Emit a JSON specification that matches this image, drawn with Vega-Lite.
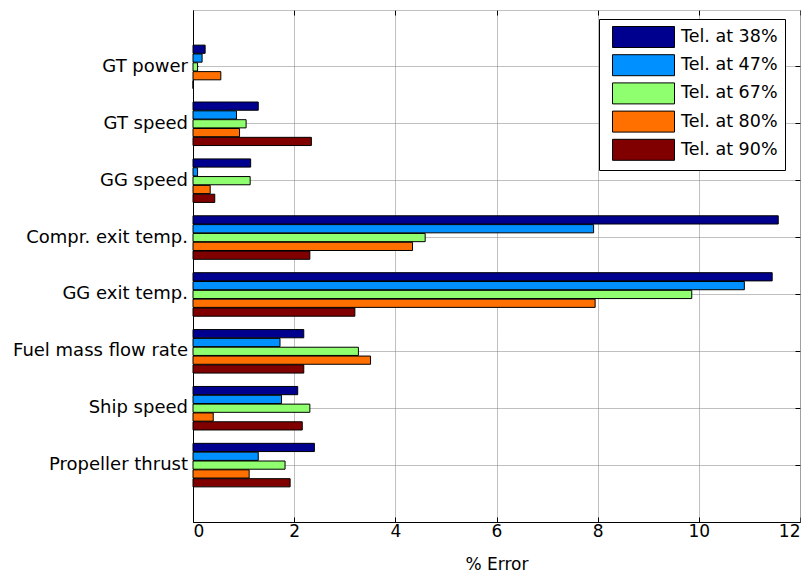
{
  "$schema": "https://vega.github.io/schema/vega-lite/v6.json",
  "autosize": "none",
  "width": 607,
  "height": 512,
  "padding": {"left": 193, "top": 10, "right": 9, "bottom": 52},
  "background": "white",
  "config": {
    "view": {"stroke": null},
    "font": "DejaVu Sans",
    "axis": {
      "labelFont": "DejaVu Sans",
      "titleFont": "DejaVu Sans",
      "labelColor": "#000",
      "titleColor": "#000",
      "titleFontWeight": "normal",
      "gridDash": [1, 1],
      "gridColor": "#808080",
      "gridOpacity": 1,
      "domainColor": "#000",
      "tickColor": "#000"
    }
  },
  "data": {
    "values": [
      {"param": "GT power", "tel": "Tel. at 38%", "value": 0.24},
      {"param": "GT power", "tel": "Tel. at 47%", "value": 0.18},
      {"param": "GT power", "tel": "Tel. at 67%", "value": 0.09},
      {"param": "GT power", "tel": "Tel. at 80%", "value": 0.55},
      {"param": "GT power", "tel": "Tel. at 90%", "value": 0},
      {"param": "GT speed", "tel": "Tel. at 38%", "value": 1.29},
      {"param": "GT speed", "tel": "Tel. at 47%", "value": 0.86},
      {"param": "GT speed", "tel": "Tel. at 67%", "value": 1.05},
      {"param": "GT speed", "tel": "Tel. at 80%", "value": 0.92},
      {"param": "GT speed", "tel": "Tel. at 90%", "value": 2.34},
      {"param": "GG speed", "tel": "Tel. at 38%", "value": 1.14},
      {"param": "GG speed", "tel": "Tel. at 47%", "value": 0.09},
      {"param": "GG speed", "tel": "Tel. at 67%", "value": 1.13},
      {"param": "GG speed", "tel": "Tel. at 80%", "value": 0.34},
      {"param": "GG speed", "tel": "Tel. at 90%", "value": 0.43},
      {"param": "Compr. exit temp.", "tel": "Tel. at 38%", "value": 11.57},
      {"param": "Compr. exit temp.", "tel": "Tel. at 47%", "value": 7.92},
      {"param": "Compr. exit temp.", "tel": "Tel. at 67%", "value": 4.59},
      {"param": "Compr. exit temp.", "tel": "Tel. at 80%", "value": 4.34},
      {"param": "Compr. exit temp.", "tel": "Tel. at 90%", "value": 2.31},
      {"param": "GG exit temp.", "tel": "Tel. at 38%", "value": 11.45},
      {"param": "GG exit temp.", "tel": "Tel. at 47%", "value": 10.9},
      {"param": "GG exit temp.", "tel": "Tel. at 67%", "value": 9.86},
      {"param": "GG exit temp.", "tel": "Tel. at 80%", "value": 7.95},
      {"param": "GG exit temp.", "tel": "Tel. at 90%", "value": 3.2},
      {"param": "Fuel mass flow rate", "tel": "Tel. at 38%", "value": 2.19},
      {"param": "Fuel mass flow rate", "tel": "Tel. at 47%", "value": 1.72},
      {"param": "Fuel mass flow rate", "tel": "Tel. at 67%", "value": 3.27},
      {"param": "Fuel mass flow rate", "tel": "Tel. at 80%", "value": 3.51},
      {"param": "Fuel mass flow rate", "tel": "Tel. at 90%", "value": 2.19},
      {"param": "Ship speed", "tel": "Tel. at 38%", "value": 2.07},
      {"param": "Ship speed", "tel": "Tel. at 47%", "value": 1.75},
      {"param": "Ship speed", "tel": "Tel. at 67%", "value": 2.31},
      {"param": "Ship speed", "tel": "Tel. at 80%", "value": 0.4},
      {"param": "Ship speed", "tel": "Tel. at 90%", "value": 2.16},
      {"param": "Propeller thrust", "tel": "Tel. at 38%", "value": 2.4},
      {"param": "Propeller thrust", "tel": "Tel. at 47%", "value": 1.29},
      {"param": "Propeller thrust", "tel": "Tel. at 67%", "value": 1.82},
      {"param": "Propeller thrust", "tel": "Tel. at 80%", "value": 1.11},
      {"param": "Propeller thrust", "tel": "Tel. at 90%", "value": 1.92}
    ]
  },
  "layer": [
    {
      "mark": {"type": "bar", "opacity": 0},
      "encoding": {
        "x": {
          "field": "value", "type": "quantitative",
          "scale": {"domain": [0, 12], "nice": false, "zero": true},
          "axis": {"orient": "top", "values": [0, 2, 4, 6, 8, 10, 12], "labels": false, "title": null, "grid": false,
                   "domainDash": [1, 1], "domainColor": "#808080", "tickSize": -5, "tickColor": "#000"}
        },
        "y": {
          "field": "param", "type": "nominal", "sort": null,
          "scale": {"paddingInner": 0.235, "paddingOuter": 0.6175},
          "axis": {"orient": "right", "labels": false, "title": null, "grid": false, "bandPosition": 0.5,
                   "domainDash": [1, 1], "domainColor": "#808080", "tickSize": -5, "tickColor": "#000"}
        },
        "yOffset": {"field": "tel", "type": "nominal", "scale": {"paddingInner": 0.07, "paddingOuter": 0}}
      }
    },
    {
      "mark": {"type": "bar", "stroke": "#000", "strokeWidth": 1},
      "encoding": {
        "x": {
          "field": "value", "type": "quantitative",
          "scale": {"domain": [0, 12], "nice": false, "zero": true},
          "axis": {"orient": "bottom", "values": [0, 2, 4, 6, 8, 10, 12], "title": "% Error", "grid": true,
                   "tickSize": -5, "labelPadding": 6, "labelFontSize": 17, "titleFontSize": 17, "titlePadding": 17}
        },
        "y": {
          "field": "param", "type": "nominal", "sort": null,
          "scale": {"paddingInner": 0.235, "paddingOuter": 0.6175},
          "axis": {"orient": "left", "title": null, "grid": true, "bandPosition": 0.5, "tickSize": -5,
                   "labelPadding": 10.5, "labelFontSize": 18, "labelLimit": 300}
        },
        "yOffset": {"field": "tel", "type": "nominal", "scale": {"paddingInner": 0.07, "paddingOuter": 0}},
        "color": {
          "field": "tel", "type": "nominal",
          "scale": {"range": ["#00008F", "#0090FF", "#8FFF70", "#FF7000", "#800000"]},
          "legend": {
            "title": null, "orient": "none", "legendX": 406, "legendY": 9,
            "fillColor": "white", "strokeColor": "#000", "padding": 7,
            "symbolType": "M-1,-1H4.905V1H-1Z", "symbolSize": 441, "symbolOffset": 6,
            "symbolStrokeColor": "#000", "symbolStrokeWidth": 1, "symbolOpacity": 1,
            "labelOffset": 47, "labelFontSize": 17.5, "labelFont": "DejaVu Sans", "labelColor": "#000",
            "rowPadding": 2.2, "labelLimit": 300
          }
        }
      }
    }
  ],
  "resolve": {"axis": {"x": "independent", "y": "independent"}}
}
